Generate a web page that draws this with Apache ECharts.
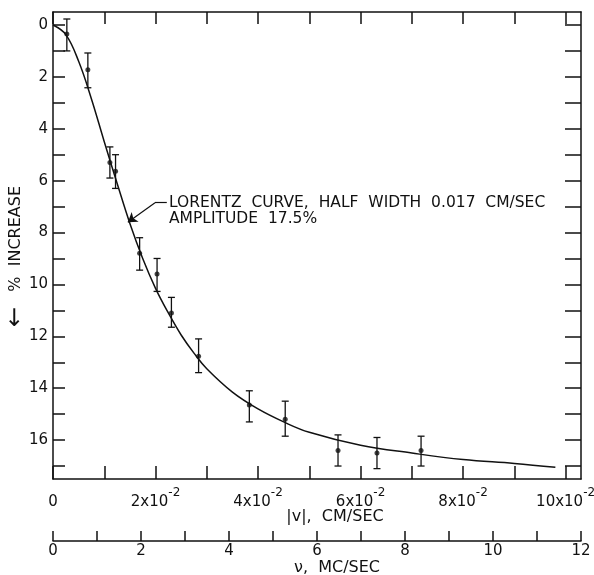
<!DOCTYPE html>
<html>
<head>
<meta charset="utf-8">
<script src="https://cdn.jsdelivr.net/npm/echarts@6/dist/echarts.min.js"></script>
<style>
html, body { margin: 0; padding: 0; background: #fff; }
#chart { width: 594px; height: 575px; }
</style>
</head>
<body>
<div id="chart"></div>
<script>
// |v| in units of 1e-2 cm/sec, increase in %
var pointSpeed    = [0.27, 0.68, 1.11, 1.22, 1.69, 2.03, 2.31, 2.84, 3.83, 4.53, 5.56, 6.32, 7.18];
var pointIncrease = [0.35, 1.73, 5.3, 5.64, 8.8, 9.6, 11.1, 12.77, 14.65, 15.2, 16.4, 16.5, 16.4];
var errLow        = [-0.23, 1.08, 4.7, 5.0, 8.2, 9.0, 10.5, 12.1, 14.1, 14.5, 15.8, 15.9, 15.85];
var errHigh       = [1.0, 2.42, 5.9, 6.3, 9.45, 10.27, 11.65, 13.4, 15.3, 15.85, 17.0, 17.1, 17.0];

// Lorentz curve
var curveSpeed    = [0, 0.25, 0.5, 0.75, 1, 1.25, 1.5, 1.75, 2, 2.25, 2.5, 2.75, 3, 3.5, 4, 4.5, 5, 6, 7, 8, 9, 9.8];
var curveIncrease = [0, 0.37, 1.4, 2.85, 4.5, 6.1, 7.65, 9.0, 10.15, 11.1, 11.95, 12.65, 13.25, 14.15, 14.8, 15.3, 15.7, 16.2, 16.5, 16.75, 16.9, 17.05];

var speedTicks = [0, 1, 2, 3, 4, 5, 6, 7, 8, 9, 10];
var speedLabels = [0, 2, 4, 6, 8, 10];
var increaseTicks = [0, 1, 2, 3, 4, 5, 6, 7, 8, 9, 10, 11, 12, 13, 14, 15, 16, 17];
var increaseLabels = [0, 2, 4, 6, 8, 10, 12, 14, 16];
var nuTicks = [0, 1, 2, 3, 4, 5, 6, 7, 8, 9, 10, 11, 12];
var nuLabels = [0, 2, 4, 6, 8, 10, 12];

var FONT = 'DejaVu Sans';
var ink = '#111';

var points = pointSpeed.map(function (x, i) { return [x, pointIncrease[i]]; });
var bars = pointSpeed.map(function (x, i) { return [x, errLow[i], errHigh[i]]; });
var curve = curveSpeed.map(function (x, i) { return [x, curveIncrease[i]]; });

var axisLine = { show: true, onZero: false, lineStyle: { color: ink, width: 1.5 } };
function ticks(len, vals) {
    return { inside: true, length: len, customValues: vals, lineStyle: { color: ink, width: 1.5 } };
}

var myChart = echarts.init(document.getElementById('chart'));
var option = {
    backgroundColor: '#fff',
    animation: false,
    grid: { left: 53, right: 13, top: 12, bottom: 96, outerBoundsMode: 'none', containLabel: false },
    textStyle: { fontFamily: FONT, color: ink },
    xAxis: [
        {
            type: 'value', position: 'bottom', min: 0, max: 10.3,
            axisLine: axisLine,
            axisTick: ticks(13, speedTicks),
            axisLabel: {
                customValues: speedLabels, margin: 8, color: ink, fontFamily: FONT, fontSize: 15,
                formatter: function (v) {
                    if (v === 0) return '{a|0}';
                    return '{a|' + v + 'x10}{s|-2}';
                },
                rich: {
                    a: { fontSize: 15, fontFamily: FONT, color: ink, verticalAlign: 'bottom', lineHeight: 23 },
                    s: { fontSize: 12, fontFamily: FONT, color: ink, verticalAlign: 'top', lineHeight: 23 }
                }
            },
            splitLine: { show: false },
            name: '|v|,  CM/SEC', nameLocation: 'middle', nameGap: 30, nameMoveOverlap: false,
            nameTextStyle: { fontSize: 16, fontFamily: FONT, color: ink, padding: [0, 0, 0, 36] }
        },
        {
            type: 'value', position: 'top', min: 0, max: 10.3,
            axisLine: axisLine,
            axisTick: ticks(12, speedTicks),
            axisLabel: { show: false },
            splitLine: { show: false }
        },
        {
            type: 'value', position: 'bottom', offset: 62, min: 0, max: 12,
            axisLine: axisLine,
            axisTick: ticks(10, nuTicks),
            axisLabel: { customValues: nuLabels, margin: 3, color: ink, fontFamily: FONT, fontSize: 15 },
            splitLine: { show: false },
            name: 'ν,  MC/SEC', nameLocation: 'middle', nameGap: 19, nameMoveOverlap: false,
            nameTextStyle: { fontSize: 16, fontFamily: FONT, color: ink, padding: [0, 0, 0, 40] }
        }
    ],
    yAxis: [
        {
            type: 'value', position: 'left', inverse: true, min: -0.5, max: 17.5,
            axisLine: axisLine,
            axisTick: ticks(12, increaseTicks),
            axisLabel: { customValues: increaseLabels, margin: 5, color: ink, fontFamily: FONT, fontSize: 15 },
            splitLine: { show: false },
            name: '{arr|\u2190}   %  INCREASE', nameLocation: 'middle', nameRotate: 90, nameGap: 25,
            nameMoveOverlap: false,
            nameTextStyle: {
                fontSize: 16, fontFamily: FONT, color: ink, padding: [0, 22, 0, 0],
                rich: { arr: { fontSize: 24, fontFamily: 'DejaVu Sans', color: ink } }
            }
        },
        {
            type: 'value', position: 'right', inverse: true, min: -0.5, max: 17.5,
            axisLine: axisLine,
            axisTick: ticks(16, increaseTicks),
            axisLabel: { show: false },
            splitLine: { show: false }
        }
    ],
    series: [
        {
            name: 'Lorentz', type: 'line', data: curve, smooth: 0.4,
            showSymbol: false, lineStyle: { color: ink, width: 1.5 },
            markLine: {
                silent: true, symbolSize: 9,
                lineStyle: { color: ink, width: 1.2, type: 'solid' },
                label: { show: false },
                data: [
                    [{ coord: [2.22, 6.85], symbol: 'none' }, { coord: [1.99, 6.85], symbol: 'none' }],
                    [{ coord: [1.99, 6.85], symbol: 'none' }, { coord: [1.46, 7.6], symbol: 'arrow' }]
                ]
            }
        },
        {
            name: 'error', type: 'custom', data: bars,
            renderItem: function (params, api) {
                var top = api.coord([api.value(0), api.value(1)]);
                var bot = api.coord([api.value(0), api.value(2)]);
                var w = 3.5;
                var st = { stroke: ink, lineWidth: 1.3 };
                return {
                    type: 'group',
                    children: [
                        { type: 'line', shape: { x1: top[0], y1: top[1], x2: bot[0], y2: bot[1] }, style: st },
                        { type: 'line', shape: { x1: top[0] - w, y1: top[1], x2: top[0] + w, y2: top[1] }, style: st },
                        { type: 'line', shape: { x1: bot[0] - w, y1: bot[1], x2: bot[0] + w, y2: bot[1] }, style: st }
                    ]
                };
            }
        },
        {
            name: 'data', type: 'scatter', data: points,
            symbolSize: 5, itemStyle: { color: ink }
        }
    ],
    graphic: [
        {
            type: 'text', left: 169, top: 195,
            style: {
                text: 'LORENTZ  CURVE,  HALF  WIDTH  0.017  CM/SEC\nAMPLITUDE  17.5%',
                fontFamily: FONT, fontSize: 15.5, lineHeight: 16, fill: ink
            }
        }
    ]
};
myChart.setOption(option);
</script>
</body>
</html>
